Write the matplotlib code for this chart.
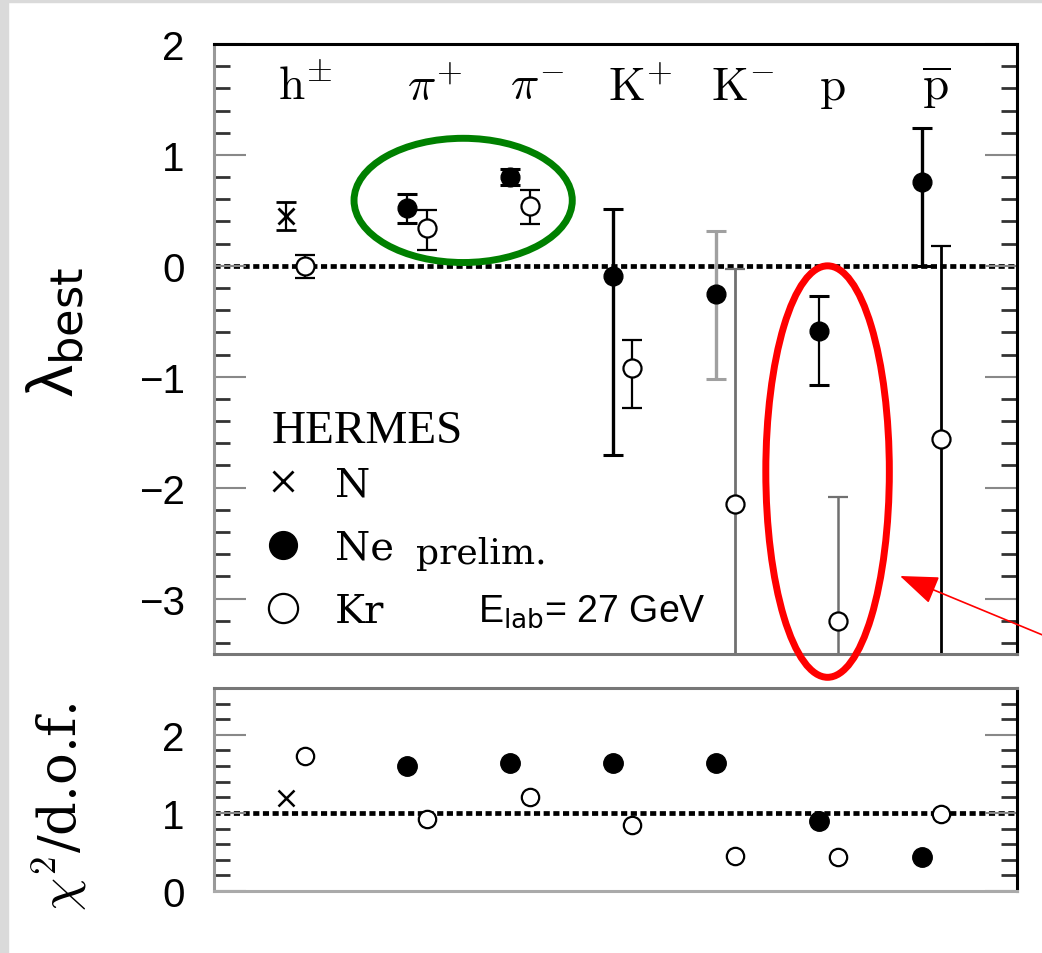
import numpy as np
import matplotlib.pyplot as plt
from matplotlib.patches import Ellipse, Rectangle
from matplotlib.lines import Line2D
from matplotlib.ticker import MultipleLocator, FixedLocator

plt.rcParams['font.family'] = ['Liberation Sans', 'DejaVu Sans']

nan = np.nan

# hadron types, one column each
hadrons = [r'$\mathrm{h}^{\pm}$', r'$\pi^{+}$', r'$\pi^{-}$', r'$\mathrm{K}^{+}$',
           r'$\mathrm{K}^{-}$', r'$\mathrm{p}$', r'$\overline{\mathrm{p}}$']

# lambda_best for N (only h+-)
lam_n = [0.45]
lam_n_err = [0.13]

# lambda_best for Ne (prelim.), asymmetric errors
lam_ne = [nan, 0.52, 0.80, -0.09, -0.25, -0.59, 0.76]
lam_ne_lo = [nan, 0.13, 0.07, 1.62, 0.77, 0.48, 0.76]
lam_ne_hi = [nan, 0.13, 0.07, 0.60, 0.56, 0.32, 0.48]

# lambda_best for Kr
lam_kr = [0.00, 0.34, 0.54, -0.92, -2.15, -3.20, -1.56]
lam_kr_lo = [0.11, 0.20, 0.16, 0.36, 2.12, 1.12, 2.20]
lam_kr_hi = [0.10, 0.16, 0.14, 0.25, 2.12, 1.12, 1.74]

# chi2 / d.o.f.
chi_n = [1.19]
chi_ne = [nan, 1.60, 1.64, 1.64, 1.64, 0.90, 0.43]
chi_kr = [1.73, 0.92, 1.21, 0.84, 0.45, 0.43, 0.98]

# layout
xc = np.array([0.82, 2, 3, 4, 5, 6, 7])
dx = 0.095
lab_x = [0.915, 2.18, 3.17, 4.17, 5.17, 6.04, 7.04]
ne_col = [None, 'k', 'k', 'k', '#a0a0a0', 'k', 'k']
ne_lw = [0, 1.6, 1.6, 2.4, 2.4, 1.6, 2.4]
kr_col = ['k', 'k', 'k', 'k', '#707070', '#707070', 'k']
kr_lw = [1.6, 1.6, 1.6, 1.6, 2.0, 1.8, 2.0]

fig = plt.figure(figsize=(10.42, 9.54), dpi=100)
fig.patches.append(Rectangle((0, 0), 8 / 1042, 1, transform=fig.transFigure,
                             color='#dadada', zorder=-5))
fig.patches.append(Rectangle((0, 1 - 3 / 954), 1, 3 / 954, transform=fig.transFigure,
                             color='#dadada', zorder=-5))

ax = fig.add_axes([0.2054, 0.3134, 0.7706, 0.6394])
ax2 = fig.add_axes([0.2054, 0.065, 0.7706, 0.2128])


def style_axes(a, spine_cols):
    for side, c in spine_cols.items():
        a.spines[side].set_color(c)
        a.spines[side].set_linewidth(2.2)
    a.set_xticks([])
    a.yaxis.set_major_locator(MultipleLocator(1))
    a.yaxis.set_minor_locator(MultipleLocator(0.2))
    a.tick_params(axis='y', which='both', direction='in', left=True, right=True)
    a.tick_params(axis='y', which='major', length=23, width=1.5, color='#888888',
                  pad=21, labelsize=29)
    a.tick_params(axis='y', which='minor', length=11.5, width=2, color='#333333')


# ---- top panel: lambda_best ----
ax.set_xlim(0.03, 7.83)
ax.set_ylim(-3.5, 2)
style_axes(ax, {'top': 'k', 'right': 'k', 'left': '#999999', 'bottom': '#777777'})
ax.axhline(0, color='k', lw=3.4, ls=(0, (1.3, 0.75)), zorder=1)

ax.errorbar(xc[0] - dx, lam_n[0], yerr=lam_n_err[0], fmt='x', color='k', ms=12, mew=2,
            elinewidth=1.6, capsize=7, capthick=2.2)
for i in range(len(hadrons)):
    if not np.isnan(lam_ne[i]):
        ax.errorbar(xc[i] - dx, lam_ne[i], yerr=[[lam_ne_lo[i]], [lam_ne_hi[i]]], fmt='o',
                    color='k', ecolor=ne_col[i], ms=13.5, elinewidth=ne_lw[i],
                    capsize=7, capthick=2.2)
    ax.errorbar(xc[i] + dx, lam_kr[i], yerr=[[lam_kr_lo[i]], [lam_kr_hi[i]]], fmt='o',
                mfc='white', mec='k', mew=1.6, ms=13, ecolor=kr_col[i],
                elinewidth=kr_lw[i], capsize=7, capthick=2.2)

for lx, lab in zip(lab_x, hadrons):
    ax.text(lx, 1.5, lab, fontsize=34, math_fontfamily='cm', ha='center', va='baseline')

ax.text(0.0722, 0.347, 'HERMES', transform=ax.transAxes, fontsize=34,
        family='Liberation Serif', va='baseline')
handles = [Line2D([], [], marker='x', ls='none', color='k', ms=14, mew=2),
           Line2D([], [], marker='o', ls='none', color='k', ms=20),
           Line2D([], [], marker='o', ls='none', mfc='white', mec='k', ms=21, mew=1.6)]
ax.legend(handles, ['N', 'Ne', 'Kr'], loc='upper left', bbox_to_anchor=(0.061, 0.308),
          frameon=False, borderpad=0, borderaxespad=0, handlelength=1.0,
          handletextpad=0.79, labelspacing=0.66,
          prop={'family': 'DejaVu Serif', 'size': 29})
ax.text(0.2516, 0.150, 'prelim.', transform=ax.transAxes, fontsize=26,
        family='DejaVu Serif', va='baseline')
ax.text(0.329, 0.054, r'E$_{\mathrm{lab}}$= 27 GeV', transform=ax.transAxes,
        fontsize=27, math_fontfamily='dejavusans', va='baseline')

# highlight marks
ax.add_patch(Ellipse((2.45, 0.59), 2.12, 1.12, fill=False, ec='#008000', lw=5,
                     clip_on=False, zorder=6))
ax.add_patch(Ellipse((5.99, -1.855), 1.20, 3.71, fill=False, ec='red', lw=5,
                     clip_on=False, zorder=6))
ax.annotate('', xy=(900, 377), xycoords='figure pixels', xytext=(1045, 317),
            textcoords='figure pixels', annotation_clip=False,
            arrowprops=dict(arrowstyle='-|>,head_length=0.8,head_width=0.3',
                            mutation_scale=30, color='red', lw=1.2,
                            shrinkA=0, shrinkB=0))

# ---- bottom panel: chi2/dof ----
ax2.set_xlim(0.03, 7.83)
ax2.set_ylim(0, 2.6)
style_axes(ax2, {'top': '#777777', 'right': 'k', 'left': '#999999', 'bottom': '#aaaaaa'})
ax2.yaxis.set_major_locator(FixedLocator([0, 1, 2]))
ax2.axhline(1, color='k', lw=3.4, ls=(0, (1.3, 0.75)), zorder=1)
ax2.plot(xc[0] - dx, chi_n[0], 'x', color='k', ms=12, mew=1.8)
ax2.plot(xc - dx, chi_ne, 'o', color='k', ms=14, ls='none')
ax2.plot(xc + dx, chi_kr, 'o', mfc='white', mec='k', mew=1.6, ms=12.5, ls='none')

fig.text(0.053, 0.652, 'λ$_{\\mathrm{best}}$', rotation=90, fontsize=46,
         family='Liberation Sans', math_fontfamily='dejavusans', ha='center', va='center')
fig.text(0.057, 0.154, r'$\chi^2$/d.o.f.', rotation=90, fontsize=38,
         family='DejaVu Serif', math_fontfamily='cm', ha='center', va='center')

fig.savefig('out.png', dpi=100)
